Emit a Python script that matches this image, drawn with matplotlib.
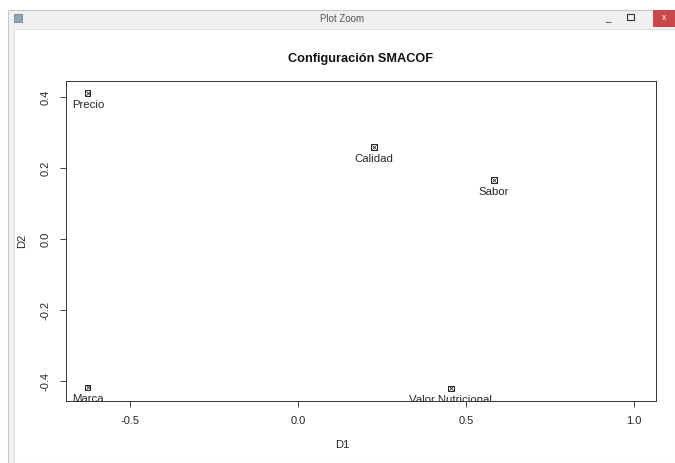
import matplotlib.pyplot as plt
from matplotlib.patches import Rectangle

plt.rcParams['font.family'] = ['Liberation Sans', 'DejaVu Sans']

# SMACOF configuration (D1, D2)
labels = ['Precio', 'Calidad', 'Sabor', 'Marca', 'Valor_Nutricional']
d1 = [-0.625, 0.226, 0.583, -0.625, 0.455]
d2 = [0.411, 0.259, 0.166, -0.417, -0.420]

xticks = [-0.5, 0.0, 0.5, 1.0]
yticks = [-0.4, -0.2, 0.0, 0.2, 0.4]

W, H = 675, 463
fig = plt.figure(figsize=(W / 100, H / 100), dpi=100)
fig.patch.set_facecolor('white')

# window chrome ("Plot Zoom"), drawn behind the axes
def px(x, y, w, h, **kw):
    fig.patches.append(Rectangle((x / W, 1 - (y + h) / H), w / W, h / H,
                                 transform=fig.transFigure, zorder=-10, **kw))

px(8, 10, 667, 453, facecolor='#f0f0f0', edgecolor='#c8c8c8', lw=0.8)
px(14, 29, 661, 434, facecolor='white', edgecolor='#e0e0e0', lw=0.8)
px(653, 10, 22, 17, facecolor='#c9484a', edgecolor='none')
px(14, 14, 8, 8, facecolor='#8aa6b8', edgecolor='#707070', lw=0.5)
px(627, 14, 7, 6, facecolor='none', edgecolor='#333333', lw=0.8)
fig.text(342 / W, 1 - 19 / H, 'Plot Zoom', ha='center', va='center',
         fontsize=7, color='#555555')
fig.text(664 / W, 1 - 18 / H, 'x', ha='center', va='center',
         fontsize=6.5, color='white')
fig.text(608 / W, 1 - 18 / H, '_', ha='center', va='center',
         fontsize=7, color='#333333')

ax = fig.add_axes([66 / W, 1 - 401 / H, 590 / W, 320 / H])
ax.set_facecolor('white')
ax.set_xlim(-0.690, 1.065)
ax.set_ylim(-0.456, 0.445)

ax.scatter(d1, d2, marker='s', s=14, facecolors='none',
           edgecolors='#222222', linewidths=0.7, zorder=3)
ax.scatter(d1, d2, marker='x', s=9, color='#222222',
           linewidths=0.6, zorder=3)

for name, x, y in zip(labels, d1, d2):
    ax.annotate(name.replace('_', ' '), (x, y), xytext=(0, -8.6),
                textcoords='offset points', ha='center', va='center',
                fontsize=8.2, color='#262626', clip_on=True,
                annotation_clip=True)

ax.set_xticks(xticks)
ax.set_xticklabels([f'{t:.1f}' for t in xticks])
ax.set_yticks(yticks)
ax.set_yticklabels([f'{t:.1f}' for t in yticks], rotation=90, va='center')
ax.tick_params(labelsize=8, length=4, width=0.6, colors='#262626', pad=7)

for s in ax.spines.values():
    s.set_linewidth(0.7)
    s.set_color('#333333')

ax.set_title('Configuración SMACOF', fontsize=9.2, fontweight='bold',
             pad=13.5, color='#111111')
fig.text(342 / W, 1 - 445 / H, 'D1', ha='center', va='center',
         fontsize=8, color='#262626')
fig.text(22 / W, 1 - 241 / H, 'D2', ha='center', va='center',
         fontsize=8, color='#262626', rotation=90)

fig.savefig('out.png', dpi=100)
